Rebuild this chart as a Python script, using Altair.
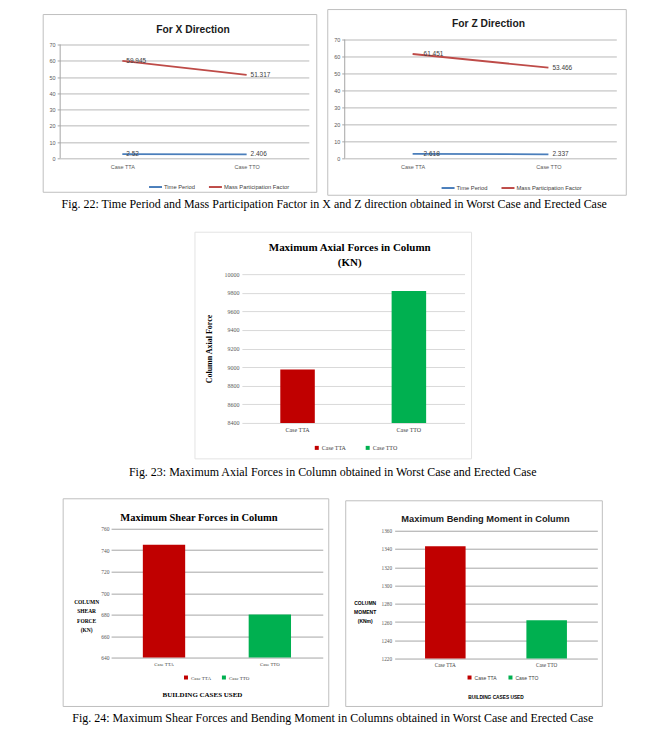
import altair as alt
import pandas as pd

# ---------------- data ----------------
cases = ["Case TTA", "Case TTO"]
series_names = ["Time Period", "Mass Participation Factor"]
x_time_period = [2.52, 2.406]
x_mass_participation = [59.945, 51.317]
z_time_period = [2.618, 2.337]
z_mass_participation = [61.451, 53.466]
axial_force = [8975, 9820]
shear_force = [745, 680]
bending_moment = [1343, 1262]

line_ticks = [0, 10, 20, 30, 40, 50, 60, 70]
axial_ticks = [8400, 8600, 8800, 9000, 9200, 9400, 9600, 9800, 10000]
shear_ticks = [640, 660, 680, 700, 720, 740, 760]
moment_ticks = [1220, 1240, 1260, 1280, 1300, 1320, 1340, 1360]

line_colors = ["#4a7ebb", "#be4b48"]
bar_colors = ["#c00000", "#00b050"]

title_x = "For X Direction"
title_z = "For Z Direction"
title_axial = ["Maximum Axial Forces in Column", "(KN)"]
title_shear = "Maximum Shear Forces in Column"
title_moment = "Maximum Bending Moment in Column"
ytitle_axial = "Column Axial Force"
ytitle_shear = ["COLUMN", "SHEAR", "FORCE", "(KN)"]
ytitle_moment = ["COLUMN", "MOMENT", "(KNm)"]
xtitle_cases = "BUILDING CASES USED"
caption_22 = "Fig. 22: Time Period and Mass Participation Factor in X and Z direction obtained in Worst Case and Erected Case"
caption_23 = "Fig. 23: Maximum Axial Forces in Column obtained in Worst Case and Erected Case"
caption_24 = "Fig. 24: Maximum Shear Forces and Bending Moment in Columns obtained in Worst Case and Erected Case"

SANS = "Liberation Sans"
SERIF = "Liberation Serif"

one = pd.DataFrame({"k": [0]})


def frame(x0, x1, y0, y1, color):
    return alt.Chart(one).mark_rect(
        fillOpacity=0, stroke=color, strokeWidth=1
    ).encode(x=alt.value(x0), x2=alt.value(x1), y=alt.value(y0), y2=alt.value(y1))


def spacer(x0, x1, y0, y1):
    # blank white element that only widens a panel's layout box
    return frame(x0, x1, y0, y1, "#ffffff")


def label(text, x, y, size, font, weight="bold", color="black"):
    return alt.Chart(pd.DataFrame({"t": [text]})).mark_text(
        fontSize=size, font=font, fontWeight=weight, color=color,
        align="center", baseline="middle"
    ).encode(x=alt.value(x), y=alt.value(y), text="t:N")


def caption(text, orient, offset, dx=0):
    return alt.TitleParams(text, orient=orient, anchor="middle", font=SERIF, fontSize=12,
                           fontWeight="normal", color="black", offset=offset, dx=dx)


def line_panel(title, tp, mpf, w, h, top, fr, tpos, lpos, dxs, extra=None):
    df = pd.DataFrame({
        "case": cases + cases,
        "series": [series_names[0]] * 2 + [series_names[1]] * 2,
        "value": tp + mpf,
    })
    df["label"] = df["value"].map(lambda v: f"{v:g}")
    x = alt.X("case:N", sort=cases,
              scale=alt.Scale(type="point", domain=cases, padding=0.5),
              axis=alt.Axis(title=None, labelAngle=0, domain=False, ticks=False, grid=False,
                            labelFont=SANS, labelFontSize=5.5, labelColor="#595959",
                            labelPadding=6))
    y = alt.Y("value:Q", scale=alt.Scale(domain=[0, 70], nice=False, range=[h, top]),
              axis=alt.Axis(values=line_ticks, title=None, grid=True, gridColor="#a6a6a6",
                            gridWidth=0.8, domain=False, ticks=True,
                            tickSize=3, tickColor="#a6a6a6", labelFont=SANS,
                            labelFontSize=5.5, labelColor="#595959", labelPadding=2))
    color = alt.Color("series:N",
                      scale=alt.Scale(domain=series_names, range=line_colors),
                      legend=alt.Legend(orient="none", legendX=lpos[0], legendY=lpos[1],
                                        direction="horizontal", title=None,
                                        symbolType="stroke", symbolSize=169,
                                        symbolStrokeWidth=2, labelFont=SANS,
                                        labelFontSize=5.8, labelColor="#404040",
                                        columnPadding=9, labelOffset=1, padding=0))
    axis_df = pd.DataFrame({"value": [line_ticks[0]], "value_end": [line_ticks[-1]]})
    axis_line = alt.Chart(axis_df).mark_rule(color="#a6a6a6", strokeWidth=1).encode(
        x=alt.value(0), y=y, y2="value_end:Q")
    lines = alt.Chart(df).mark_line(strokeWidth=1.8).encode(x=x, y=y, color=color)
    texts = [
        alt.Chart(df).transform_filter(alt.datum.case == c).mark_text(
            align="left", baseline="middle", dx=d, font=SANS, fontSize=6.5, color="#404040"
        ).encode(x=x, y=y, text="label:N")
        for c, d in zip(cases, dxs)
    ]
    layers = [spacer(*extra)] if extra else []
    layers += [frame(*fr, "#bfbfbf"), axis_line, lines] + texts + [
        label(title, tpos[0], tpos[1], 10.3, SANS, color="#1a1a1a")]
    return alt.layer(*layers).properties(width=w, height=h)


def bar_panel(values, domain, ticks, w, h, top, pad_in, pad_out, yaxis, xaxis, legend,
              fr, frame_color, texts, extra=None):
    df = pd.DataFrame({"case": cases, "value": values})
    bars = alt.Chart(df).mark_bar().encode(
        x=alt.X("case:N", sort=cases,
                scale=alt.Scale(domain=cases, paddingInner=pad_in, paddingOuter=pad_out),
                axis=alt.Axis(labelAngle=0, domain=False, ticks=False, grid=False, **xaxis)),
        y=alt.Y("value:Q", scale=alt.Scale(domain=domain, zero=False, nice=False, range=[h, top]),
                axis=alt.Axis(values=ticks, format="d", domain=False, ticks=False, grid=True,
                              **yaxis)),
        y2=alt.datum(domain[0]),
        color=alt.Color("case:N", scale=alt.Scale(domain=cases, range=bar_colors),
                        legend=alt.Legend(orient="none", direction="horizontal", title=None,
                                          symbolType="square", symbolSize=16, labelOffset=2,
                                          padding=0, labelColor="#404040", **legend)),
    )
    layers = [spacer(*extra)] if extra else []
    layers += [frame(*fr, frame_color), bars] + texts
    return alt.layer(*layers).properties(width=w, height=h)


# ---------------- row 1: line charts ----------------
p1 = line_panel(title_x, x_time_period, x_mass_participation, 249, 119, 5,
                (-17, 257, -25, 153), (133, -10), (88, 140), (4, 4))
p2 = line_panel(title_z, z_time_period, z_mass_participation, 272, 119, 0,
                (-17, 282, -30, 156), (144, -16), (96, 141), (11, 4),
                extra=(300, 309, 60, 61))

row1 = alt.hconcat(p1, p2, spacing=9, title=caption(caption_22, "bottom", 3, dx=-14)
                   ).resolve_scale(color="independent").resolve_legend(color="independent")

# ---------------- row 2: axial ----------------
p3 = bar_panel(
    axial_force, [8400, 10000], axial_ticks, 223, 149, 0, 0.69, 0.345,
    yaxis=dict(title=ytitle_axial, titleAngle=270, titleX=-32, titleY=74.5,
               titleAlign="center", titleBaseline="middle", titleFont=SERIF,
               titleFontSize=8, titleFontWeight="bold", titleColor="black",
               gridColor="#d9d9d9", labelFont=SERIF, labelFontSize=6,
               labelColor="#595959", labelPadding=3),
    xaxis=dict(title=None, labelFont=SERIF, labelFontSize=6, labelColor="#404040",
               labelPadding=4),
    legend=dict(legendX=72, legendY=171, labelFont=SERIF, labelFontSize=6,
                columnPadding=18),
    fr=(-47, 230, -42, 185), frame_color="#e3e3e3",
    texts=[label(title_axial[0], 108, -26, 11, SERIF),
           label(title_axial[1], 108, -11, 11, SERIF)],
    extra=(0, 2, -57, -56),
)

# ---------------- row 3: shear & moment ----------------
p4 = bar_panel(
    shear_force, [640, 760], shear_ticks, 212, 129, 0, 0.6, 0.3,
    yaxis=dict(title=ytitle_shear, titleAngle=0, titleX=-25, titleY=71, titleAlign="center",
               titleBaseline="top", titleLineHeight=9.3, titleFont=SERIF, titleFontSize=5.5,
               titleFontWeight="bold", titleColor="black", gridColor="#a6a6a6",
               labelFont=SERIF, labelFontSize=5.5, labelColor="#595959", labelPadding=2),
    xaxis=dict(title=xtitle_cases, titleX=91, titleY=37, titleAlign="center",
               titleBaseline="middle", titleFont=SERIF, titleFontSize=7,
               titleFontWeight="bold", titleColor="black", labelFont=SERIF,
               labelFontSize=4.8, labelColor="#404040", labelPadding=4),
    legend=dict(legendX=72, legendY=146, labelFont=SERIF, labelFontSize=5, columnPadding=9),
    fr=(-48, 218, -30, 178), frame_color="#bfbfbf",
    texts=[label(title_shear, 88, -11, 10.5, SERIF)],
)
p5 = bar_panel(
    bending_moment, [1220, 1360], moment_ticks, 203, 130, 2, 0.6, 0.3,
    yaxis=dict(title=ytitle_moment, titleAngle=0, titleX=-30, titleY=72, titleAlign="center",
               titleBaseline="top", titleLineHeight=9, titleFont=SANS, titleFontSize=5,
               titleFontWeight="bold", titleColor="black", gridColor="#a6a6a6",
               labelFont=SERIF, labelFontSize=5.3, labelColor="#595959", labelPadding=3),
    xaxis=dict(title=xtitle_cases, titleX=101, titleY=39, titleAlign="center",
               titleBaseline="middle", titleFont=SANS, titleFontSize=4.8,
               titleFontWeight="bold", titleColor="black", labelFont=SERIF,
               labelFontSize=5.2, labelColor="#404040", labelPadding=4),
    legend=dict(legendX=72, legendY=146, labelFont=SANS, labelFontSize=5, columnPadding=10),
    fr=(-49, 208, -28, 178), frame_color="#bfbfbf",
    texts=[label(title_moment, 91, -10, 9.3, SANS, color="#1a1a1a")],
)

row3 = alt.hconcat(p4, p5, spacing=15, title=caption(caption_23, "top", 19)
                   ).resolve_scale(color="independent").resolve_legend(color="independent")
row3_wrap = alt.vconcat(row3, title=caption(caption_24, "bottom", 6)
                        ).resolve_scale(color="independent").resolve_legend(color="independent")

chart = alt.vconcat(row1, p3, row3_wrap, spacing=6, center=True).resolve_scale(
    color="independent"
).resolve_legend(color="independent").properties(
    padding={"left": 34, "top": 0, "right": 0, "bottom": 0}
).configure_view(stroke=None)

chart.save("out.html", embed_options={"renderer": "svg", "actions": False})
